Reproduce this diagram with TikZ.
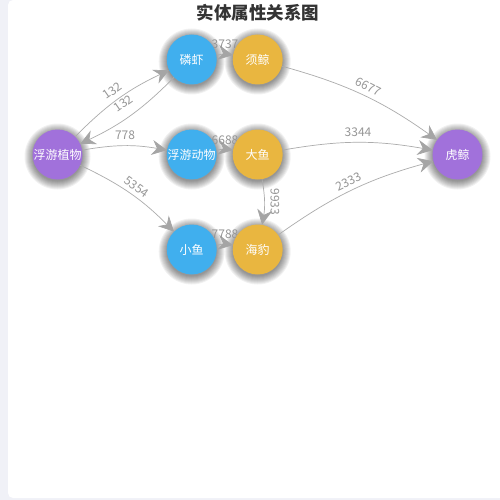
\documentclass[tikz,border=0pt]{standalone}
\usepackage{fontspec}
\setmainfont{Noto Sans CJK SC}
\usetikzlibrary{arrows.meta}
\definecolor{nblue}{RGB}{64,175,238}
\definecolor{norange}{RGB}{233,182,64}
\definecolor{npurple}{RGB}{161,113,219}
\definecolor{edgec}{RGB}{172,172,172}
\definecolor{arrc}{RGB}{165,165,165}
\definecolor{labc}{RGB}{150,150,150}
\definecolor{pagebg}{RGB}{240,241,247}
\definecolor{titlec}{RGB}{51,51,51}
\pgfdeclarelayer{back}
\pgfdeclarelayer{glow}
\pgfdeclarelayer{edges}
\pgfsetlayers{back,glow,edges,main}
\begin{document}
\begin{tikzpicture}[x=1pt,y=1pt,
  ent/.style={circle, minimum size=50pt, inner sep=0pt, text=white,
    font=\fontsize{12}{12}\selectfont},
  pblue/.style={ent, fill=nblue},
  porange/.style={ent, fill=norange},
  ppurple/.style={ent, fill=npurple},
  rel/.style={draw=edgec, line width=0.7pt, bend left=10,
    -{Stealth[length=15pt,width=15pt,inset=5pt,color=arrc]}},
  lab/.style={text=labc, font=\fontsize{12}{12}\selectfont, inner sep=0pt},
  glowring/.style={fill=black, opacity=0.055}
]
\useasboundingbox (0,0) rectangle (500,-500);
\begin{pgfonlayer}{back}
  \fill[pagebg] (0,0) rectangle (500,-500);
  \fill[white, rounded corners=5pt] (8,0) rectangle (512,-498);
\end{pgfonlayer}

\node[font=\bfseries\fontsize{17.5}{17.5}\selectfont, text=titlec] (title) at (258,-13) {实体属性关系图};

\node[ppurple] (fy) at (57.5,-154.5) {浮游植物};
\node[pblue] (lx) at (191.7,-59.5) {磷虾};
\node[porange] (xj) at (257.7,-59.5) {须鲸};
\node[pblue] (fd) at (191.7,-154.5) {浮游动物};
\node[porange] (dy) at (257.7,-154.5) {大鱼};
\node[pblue] (xy) at (191.7,-249.5) {小鱼};
\node[porange] (hb) at (257.7,-249.5) {海豹};
\node[ppurple] (hj) at (457.5,-154.5) {虎鲸};

\begin{pgfonlayer}{glow}
  \foreach \n in {fy,lx,xj,fd,dy,xy,hb,hj}{
    \foreach \r in {1,...,9}{
      \fill[glowring] ([yshift=-2pt]\n.center) circle[radius={(24+\r)*1pt}];
    }
  }
\end{pgfonlayer}

\begin{pgfonlayer}{edges}
  \draw[rel] (fy) to (lx);
  \draw[rel] (lx) to (fy);
  \draw[rel] (fy) to (fd);
  \draw[rel] (fy) to (xy);
  \draw[rel] (lx) to (xj);
  \draw[rel] (fd) to (dy);
  \draw[rel] (xy) to (hb);
  \draw[rel] (dy) to (hb);
  \draw[rel] (xj) to (hj);
  \draw[rel] (dy) to (hj);
  \draw[rel] (hb) to (hj);

  \node[lab, rotate=35] (l1) at (112.3,-90.7) {132};
  \node[lab, rotate=35] (l2) at (123.3,-103.5) {132};
  \node[lab] (l3) at (125,-135.3) {778};
  \node[lab, rotate=-35] (l4) at (136.7,-186.7) {5354};
  \node[lab] (l5) at (225,-44) {3737};
  \node[lab] (l6) at (225,-140) {6688};
  \node[lab] (l7) at (225,-234) {7788};
  \node[lab, rotate=-90] (l8) at (275,-201.7) {9933};
  \node[lab, rotate=-27] (l9) at (368.3,-86.7) {6677};
  \node[lab] (l10) at (358,-132.3) {3344};
  \node[lab, rotate=25] (l11) at (348.3,-181.7) {2333};
\end{pgfonlayer}
\end{tikzpicture}
\end{document}
